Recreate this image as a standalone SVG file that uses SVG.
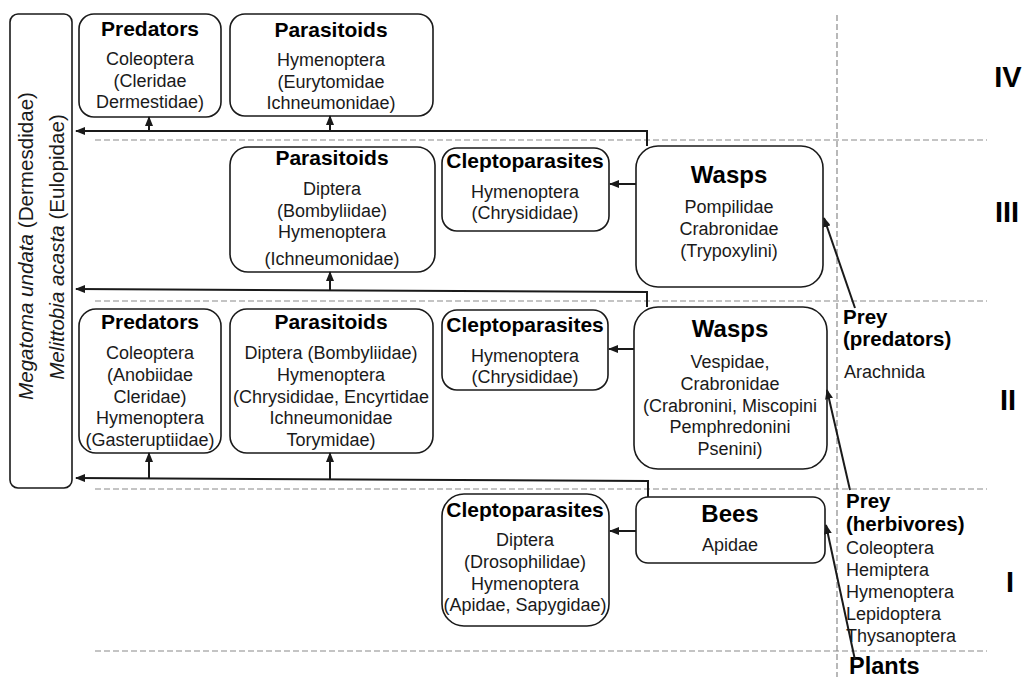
<svg xmlns="http://www.w3.org/2000/svg" width="1023" height="677" viewBox="0 0 1023 677">
<defs>
<style>
.bg{fill:#ffffff}
.box{fill:#ffffff;stroke:#1a1a1a;stroke-width:1.6}
.dash{stroke:#8a8a8a;stroke-width:1.2;stroke-dasharray:6,3;fill:none}
.con{stroke:#1a1a1a;stroke-width:2;fill:none}
.t{font-family:"Liberation Sans",Arial,sans-serif;font-weight:bold;font-size:21px;fill:#000;text-anchor:middle}
.tw{font-family:"Liberation Sans",Arial,sans-serif;font-weight:bold;font-size:24px;fill:#000;text-anchor:middle}
.b{font-family:"Liberation Sans",Arial,sans-serif;font-size:18px;fill:#1a1a1a;text-anchor:middle}
.bl{font-family:"Liberation Sans",Arial,sans-serif;font-size:18px;fill:#1a1a1a}
.pl{font-family:"Liberation Sans",Arial,sans-serif;font-weight:bold;font-size:20.5px;fill:#000}
.pb{font-family:"Liberation Sans",Arial,sans-serif;font-weight:bold;font-size:23.5px;fill:#000}
.v{font-family:"Liberation Sans",Arial,sans-serif;font-size:20.6px;fill:#1a1a1a;text-anchor:middle}
.rn{font-family:"Liberation Sans",Arial,sans-serif;font-weight:bold;font-size:29px;fill:#000;text-anchor:middle}
</style>
<marker id="ah" markerUnits="userSpaceOnUse" markerWidth="10" markerHeight="8" refX="9" refY="4" orient="auto">
<path d="M0,0 L10,4 L0,8 z" fill="#1a1a1a"/>
</marker>
</defs>
<rect class="bg" x="0" y="0" width="1023" height="677"/>

<g id="grid">
<line class="dash" x1="95" y1="140" x2="987" y2="140"/>
<line class="dash" x1="95" y1="301" x2="987" y2="301"/>
<line class="dash" x1="95" y1="489" x2="987" y2="489"/>
<line class="dash" x1="95" y1="651" x2="987" y2="651"/>
<line class="dash" x1="837" y1="15" x2="837" y2="677"/>
</g>

<g id="levels">
<text class="rn" x="1008" y="87">IV</text>
<text class="rn" x="1007" y="222">III</text>
<text class="rn" x="1008" y="410">II</text>
<text class="rn" x="1010" y="592">I</text>
</g>

<g id="hosts">
<rect class="box" x="10" y="14" width="62" height="474" rx="8"/>
<text class="v" transform="translate(33,246) rotate(-90)"><tspan font-style="italic">Megatoma undata</tspan> (Dermesdidae)</text>
<text class="v" transform="translate(64,247) rotate(-90)"><tspan font-style="italic">Melittobia acasta</tspan> (Eulopidae)</text>
</g>

<g id="predators4">
<rect class="box" x="79" y="14" width="142" height="103" rx="15"/>
<text class="t" x="150" y="36">Predators</text>
<text class="b" x="150" y="65">Coleoptera</text>
<text class="b" x="150" y="87">(Cleridae</text>
<text class="b" x="150" y="108">Dermestidae)</text>
</g>

<g id="parasitoids4">
<rect class="box" x="230" y="14" width="203" height="102" rx="15"/>
<text class="t" x="331" y="37">Parasitoids</text>
<text class="b" x="331" y="66">Hymenoptera</text>
<text class="b" x="331" y="88">(Eurytomidae</text>
<text class="b" x="331" y="109">Ichneumonidae)</text>
</g>

<g id="parasitoids3">
<rect class="box" x="230" y="147" width="205" height="125" rx="18"/>
<text class="t" x="332" y="165">Parasitoids</text>
<text class="b" x="332" y="195">Diptera</text>
<text class="b" x="332" y="217">(Bombyliidae)</text>
<text class="b" x="332" y="238">Hymenoptera</text>
<text class="b" x="332" y="265">(Ichneumonidae)</text>
</g>

<g id="clepto3">
<rect class="box" x="442" y="148" width="167" height="83" rx="15"/>
<text class="t" x="525" y="168">Cleptoparasites</text>
<text class="b" x="525" y="198">Hymenoptera</text>
<text class="b" x="525" y="219">(Chrysididae)</text>
</g>

<g id="wasps3">
<rect class="box" x="636" y="146" width="187" height="141" rx="22"/>
<text class="tw" x="729" y="183">Wasps</text>
<text class="b" x="729" y="213">Pompilidae</text>
<text class="b" x="729" y="235">Crabronidae</text>
<text class="b" x="729" y="257">(Trypoxylini)</text>
</g>

<g id="predators2">
<rect class="box" x="79" y="309" width="142" height="144" rx="17"/>
<text class="t" x="150" y="329">Predators</text>
<text class="b" x="150" y="359">Coleoptera</text>
<text class="b" x="150" y="381">(Anobiidae</text>
<text class="b" x="150" y="403">Cleridae)</text>
<text class="b" x="150" y="424">Hymenoptera</text>
<text class="b" x="150" y="446">(Gasteruptiidae)</text>
</g>

<g id="parasitoids2">
<rect class="box" x="230" y="309" width="203" height="144" rx="17"/>
<text class="t" x="331" y="329">Parasitoids</text>
<text class="b" x="331" y="359">Diptera (Bombyliidae)</text>
<text class="b" x="331" y="381">Hymenoptera</text>
<text class="b" x="331" y="403">(Chrysididae, Encyrtidae</text>
<text class="b" x="331" y="424">Ichneumonidae</text>
<text class="b" x="331" y="446">Torymidae)</text>
</g>

<g id="clepto2">
<rect class="box" x="442" y="310" width="166" height="80" rx="15"/>
<text class="t" x="525" y="332">Cleptoparasites</text>
<text class="b" x="525" y="362">Hymenoptera</text>
<text class="b" x="525" y="383">(Chrysididae)</text>
</g>

<g id="wasps2">
<rect class="box" x="634" y="307" width="193" height="162" rx="24"/>
<text class="tw" x="730" y="337">Wasps</text>
<text class="b" x="730" y="368">Vespidae,</text>
<text class="b" x="730" y="390">Crabronidae</text>
<text class="b" x="730" y="412">(Crabronini, Miscopini</text>
<text class="b" x="730" y="433">Pemphredonini</text>
<text class="b" x="730" y="455">Psenini)</text>
</g>

<g id="clepto1">
<rect class="box" x="442" y="494" width="167" height="132" rx="22"/>
<text class="t" x="525" y="517">Cleptoparasites</text>
<text class="b" x="525" y="546">Diptera</text>
<text class="b" x="525" y="568">(Drosophilidae)</text>
<text class="b" x="525" y="590">Hymenoptera</text>
<text class="b" x="525" y="611">(Apidae, Sapygidae)</text>
</g>

<g id="bees">
<rect class="box" x="636" y="497" width="189" height="66" rx="12"/>
<text class="tw" x="730" y="522">Bees</text>
<text class="b" x="730" y="551">Apidae</text>
</g>

<g id="prey-predators">
<text class="pl" x="843" y="324">Prey</text>
<text class="pl" x="843" y="346">(predators)</text>
<text class="bl" x="844" y="378">Arachnida</text>
</g>

<g id="prey-herbivores">
<text class="pl" x="846" y="508">Prey</text>
<text class="pl" x="846" y="531">(herbivores)</text>
<text class="bl" x="846" y="554">Coleoptera</text>
<text class="bl" x="846" y="576">Hemiptera</text>
<text class="bl" x="846" y="598">Hymenoptera</text>
<text class="bl" x="846" y="620">Lepidoptera</text>
<text class="bl" x="846" y="642">Thysanoptera</text>
</g>

<g id="plants">
<text class="pb" x="849" y="674">Plants</text>
</g>

<g id="connectors">
<polyline class="con" points="647,146 647,131 76,131" marker-end="url(#ah)"/>
<line class="con" x1="149" y1="131" x2="149" y2="117" marker-end="url(#ah)"/>
<line class="con" x1="330" y1="131" x2="330" y2="116" marker-end="url(#ah)"/>
<polyline class="con" points="647,307 647,292 76,289" marker-end="url(#ah)"/>
<line class="con" x1="330" y1="290" x2="330" y2="272" marker-end="url(#ah)"/>
<polyline class="con" points="648,497 648,481 76,478" marker-end="url(#ah)"/>
<line class="con" x1="149" y1="478" x2="149" y2="453" marker-end="url(#ah)"/>
<line class="con" x1="330" y1="479" x2="330" y2="453" marker-end="url(#ah)"/>
<line class="con" x1="636" y1="184" x2="610" y2="184" marker-end="url(#ah)"/>
<line class="con" x1="634" y1="349" x2="609" y2="349" marker-end="url(#ah)"/>
<line class="con" x1="636" y1="531" x2="610" y2="531" marker-end="url(#ah)"/>
<line class="con" x1="855" y1="308" x2="824" y2="218" marker-end="url(#ah)"/>
<line class="con" x1="850" y1="490" x2="827" y2="390" marker-end="url(#ah)"/>
<line class="con" x1="855" y1="660" x2="826" y2="525" marker-end="url(#ah)"/>
</g>
</svg>
